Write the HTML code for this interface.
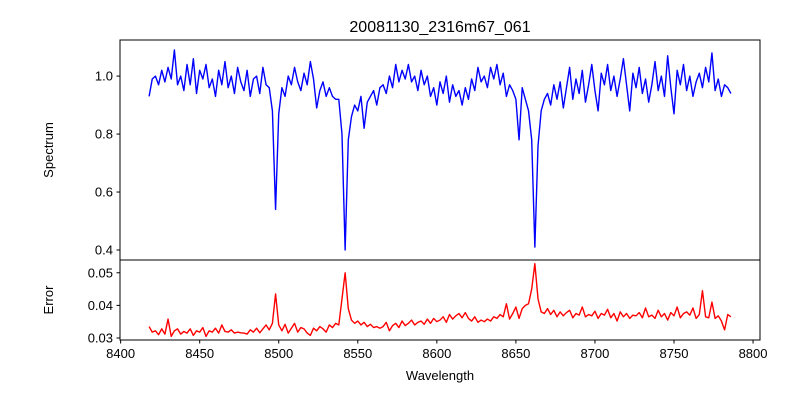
<!DOCTYPE html>
<html><head><meta charset="utf-8"><style>
body{margin:0;background:#fff}
svg{display:block;font-family:"Liberation Sans","DejaVu Sans",sans-serif}
</style></head><body>
<svg id="chart" width="800" height="400" xmlns="http://www.w3.org/2000/svg">
<rect width="800" height="400" fill="#fff"/>
<text x="440" y="32" font-size="16" text-anchor="middle">20081130_2316m67_061</text>
<text transform="translate(53,150) rotate(-90)" font-size="13" text-anchor="middle">Spectrum</text>
<text transform="translate(53,300) rotate(-90)" font-size="13" text-anchor="middle">Error</text>
<text x="440" y="380" font-size="13" text-anchor="middle">Wavelength</text>
<g id="plots"></g>
</svg>
<script>
const wlStart = 8418, wlStep = 2;
const flux = [
0.93,0.99,1.00,0.97,1.02,0.98,1.03,0.99,1.09,0.97,
1.00,0.95,1.04,0.97,1.06,0.94,1.02,0.99,1.04,0.96,
0.99,0.93,1.02,0.97,1.05,0.96,1.00,0.94,1.03,0.98,
0.95,1.02,0.93,0.99,1.00,0.94,1.03,0.97,0.96,0.88,
0.54,0.87,0.96,0.93,1.00,0.97,1.03,0.98,0.95,1.01,
0.97,1.05,0.99,0.89,0.95,0.98,0.93,0.96,0.93,0.92,
0.92,0.80,0.40,0.78,0.86,0.90,0.88,0.93,0.82,0.91,
0.93,0.95,0.90,0.96,0.97,0.94,1.00,0.96,1.04,0.98,
1.02,0.99,1.04,0.98,1.00,0.95,1.02,0.97,1.00,0.93,
0.96,0.90,0.98,0.94,1.00,0.91,0.97,0.93,0.95,0.90,
0.96,0.92,0.99,0.95,1.03,0.98,1.00,0.96,1.03,0.99,
1.04,0.97,1.01,0.93,0.97,0.95,0.92,0.78,0.96,0.92,
0.88,0.78,0.41,0.76,0.88,0.92,0.94,0.90,0.97,0.92,
0.98,0.89,0.96,1.03,0.92,0.99,0.94,1.02,0.91,0.97,
1.04,0.95,0.88,1.01,0.97,1.04,0.95,1.00,0.93,0.99,
1.06,0.97,0.88,1.01,0.96,1.03,0.94,0.99,0.91,0.97,
1.05,0.95,1.00,0.93,1.07,0.96,0.87,1.02,0.97,1.04,
0.95,1.00,0.93,0.98,1.01,0.96,1.03,0.98,1.08,0.95,
0.99,0.93,0.97,0.96,0.94];
const err = [
.0335,.0318,.0322,.0310,.0328,.0312,.0358,.0305,.0322,.0328,
.0312,.0320,.0315,.0328,.0308,.0322,.0318,.0332,.0305,.0322,
.0318,.0330,.0315,.0340,.0320,.0318,.0325,.0315,.0318,.0316,
.0315,.0312,.0325,.0318,.0330,.0316,.0328,.0340,.0325,.0345,
.0435,.0340,.0322,.0342,.0315,.0330,.0345,.0318,.0332,.0328,
.0315,.0308,.0330,.0322,.0335,.0328,.0318,.0340,.0332,.0345,
.0340,.0420,.0500,.0390,.0355,.0345,.0352,.0340,.0348,.0335,
.0342,.0332,.0335,.0330,.0335,.0348,.0322,.0338,.0345,.0332,
.0352,.0338,.0345,.0355,.0340,.0348,.0352,.0342,.0358,.0345,
.0360,.0350,.0355,.0365,.0348,.0372,.0358,.0368,.0375,.0362,
.0378,.0360,.0352,.0365,.0348,.0355,.0350,.0358,.0352,.0365,
.0360,.0372,.0365,.0405,.0358,.0375,.0395,.0360,.0390,.0400,
.0405,.0450,.0528,.0420,.0380,.0375,.0390,.0372,.0385,.0365,
.0380,.0368,.0378,.0385,.0362,.0375,.0370,.0395,.0365,.0372,
.0368,.0382,.0360,.0375,.0370,.0388,.0362,.0375,.0352,.0380,
.0365,.0375,.0360,.0370,.0368,.0378,.0362,.0392,.0365,.0370,
.0360,.0385,.0365,.0375,.0355,.0378,.0368,.0395,.0362,.0375,
.0380,.0370,.0392,.0360,.0372,.0445,.0365,.0362,.0410,.0360,
.0368,.0352,.0325,.0372,.0365];
const xTicks = [8400,8450,8500,8550,8600,8650,8700,8750,8800];
const fluxTicks = [0.4,0.6,0.8,1.0];
const fluxTickLabels = ["0.4","0.6","0.8","1.0"];
const errTicks = [0.03,0.04,0.05];
const errTickLabels = ["0.03","0.04","0.05"];

const NS="http://www.w3.org/2000/svg";
const g=document.getElementById('plots');
const L=120,R=760,T1=40,B1=260,T2=260,B2=340;
const wl=flux.map((_,i)=>wlStart+i*wlStep);
const errWl=err.map((_,i)=>wlStart+i*wlStep);
const allWl=wl.concat(errWl);
const wMin=Math.min(...allWl),wMax=Math.max(...allWl),wPad=(wMax-wMin)*0.05;
const x0=wMin-wPad,x1=wMax+wPad;
const xs=v=>L+(v-x0)/(x1-x0)*(R-L);
function yScale(arr,top,bot){const mn=Math.min(...arr),mx=Math.max(...arr),p=(mx-mn)*0.05;const a=mn-p,b=mx+p;return v=>bot-(v-a)/(b-a)*(bot-top);}
const ys1=yScale(flux,T1,B1), ys2=yScale(err,T2,B2);
function mk(tag,attrs,name){const e=document.createElementNS(NS,tag);for(const k in attrs)e.setAttribute(k,attrs[k]);g.appendChild(e);return e;}
function line(xarr,yarr,ys,color,name){
  const d=yarr.map((v,i)=>(i?'L':'M')+xs(xarr[i]).toFixed(2)+','+ys(v).toFixed(2)).join('');
  const p=document.createElementNS(NS,'path');
  p.setAttribute('d',d);p.setAttribute('fill','none');p.setAttribute('stroke',color);p.setAttribute('stroke-width','1.4');p.setAttribute('stroke-linejoin','round');
  
  
  g.appendChild(p);
}
line(wl,flux,ys1,'#0000ff','spectrum-line');
line(errWl,err,ys2,'#ff0000','error-line');
mk('rect',{x:L,y:T1,width:R-L,height:B1-T1,fill:'none',stroke:'#000','stroke-width':1},'spectrum-axes-frame');
mk('rect',{x:L,y:T2,width:R-L,height:B2-T2,fill:'none',stroke:'#000','stroke-width':1},'error-axes-frame');
fluxTicks.forEach((v,i)=>{const y=ys1(v);
  mk('line',{x1:L-3.5,x2:L,y1:y,y2:y,stroke:'#000'},'spectrum-y-tick');
  const t=mk('text',{x:L-7,y:y+4.5,'font-size':13,'text-anchor':'end'},'spectrum-y-tick-label');t.textContent=fluxTickLabels[i];});
errTicks.forEach((v,i)=>{const y=ys2(v);
  mk('line',{x1:L-3.5,x2:L,y1:y,y2:y,stroke:'#000'},'error-y-tick');
  const t=mk('text',{x:L-7,y:y+4.5,'font-size':13,'text-anchor':'end'},'error-y-tick-label');t.textContent=errTickLabels[i];});
xTicks.forEach(v=>{const x=xs(v);
  mk('line',{x1:x,x2:x,y1:B2,y2:B2+3.5,stroke:'#000'},'x-tick');
  const t=mk('text',{x:x,y:B2+18,'font-size':13,'text-anchor':'middle'},'x-tick-label');t.textContent=String(v);});
</script>
</body></html>
